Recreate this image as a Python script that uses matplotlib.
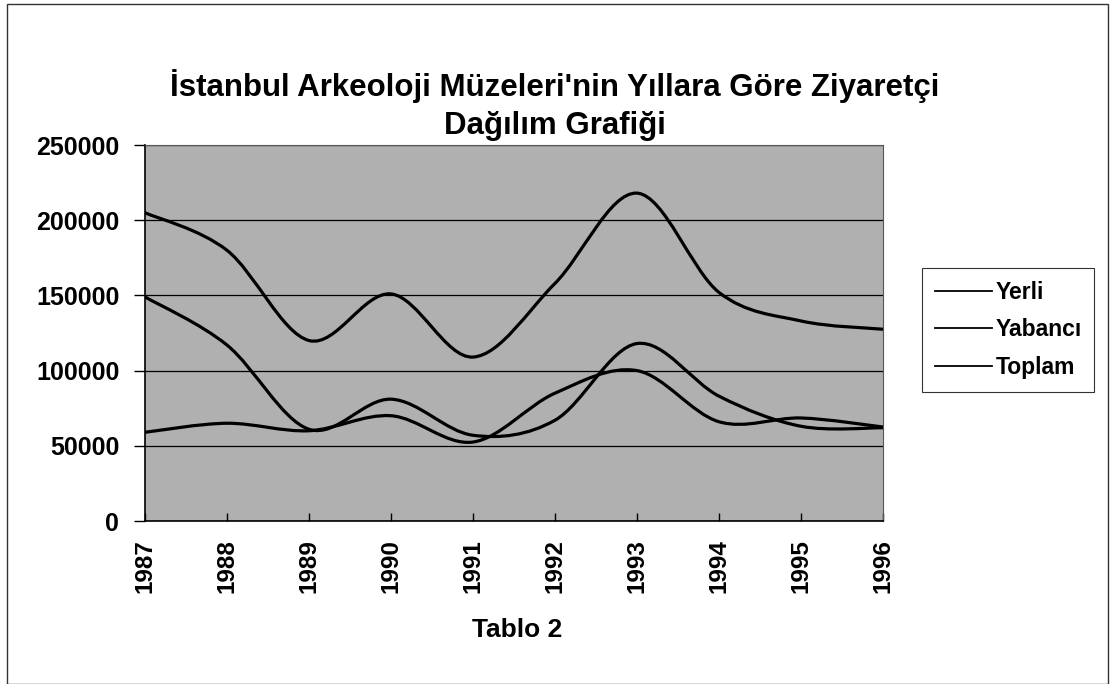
import numpy as np
import matplotlib
matplotlib.use('Agg')
import matplotlib.pyplot as plt
from matplotlib.path import Path
from matplotlib.patches import PathPatch, Rectangle
from matplotlib.lines import Line2D

plt.rcParams['font.family'] = ['Liberation Sans', 'DejaVu Sans']
plt.rcParams['font.weight'] = 'bold'

#  Data
years = [1987, 1988, 1989, 1990, 1991, 1992, 1993, 1994, 1995, 1996]
yerli = [59000, 65000, 60000, 70000, 52500, 85000, 100000, 66000, 68500, 62500]
yabanci = [149000, 117000, 61000, 81000, 57000, 67000, 118000, 83000, 63000,
           62000]
toplam = [205000, 180000, 120000, 151000, 109000, 158000, 218000, 152000,
          133000, 127500]
series_names = ['Yerli', 'Yabancı', 'Toplam']

title_1 = "İstanbul Arkeoloji Müzeleri'nin Yıllara Göre Ziyaretçi"
title_2 = "Dağılım Grafiği"


def smooth_path(xs, ys):
    #  Bezier path through the points (like Excel's smoothed line)
    p = np.column_stack([xs, ys]).astype(float)
    n = len(p)
    verts = [p[0]]
    codes = [Path.MOVETO]
    for i in range(n - 1):
        p0 = p[i - 1] if i > 0 else p[i]
        p1 = p[i]
        p2 = p[i + 1]
        p3 = p[i + 2] if i + 2 < n else p[i + 1]
        c1 = p1 + (p2 - p0) / 6.0
        c2 = p2 - (p3 - p1) / 6.0
        verts += [c1, c2, p2]
        codes += [Path.CURVE4] * 3
    return Path(verts, codes)


fig = plt.figure(figsize=(11.1, 6.84), dpi=100)
ax = fig.add_axes([0.1306, 0.2383, 0.6649, 0.5497])
ax.set_facecolor('#b0b0b0')

for vals in (yerli, yabanci, toplam):
    ax.add_patch(PathPatch(smooth_path(years, vals), fill=False,
                           edgecolor='black', lw=2.3, zorder=3,
                           capstyle='round'))

ax.set_xlim(years[0], years[-1])
ax.set_ylim(0, 250000)
ax.set_yticks(np.arange(0, 250001, 50000))
ax.set_xticks(years)
ax.set_xticklabels([str(y) for y in years], rotation=90, fontsize=17.5,
                   fontweight='bold')
ax.set_yticklabels([str(v) for v in range(0, 250001, 50000)], fontsize=18,
                   fontweight='bold')
ax.tick_params(axis='x', direction='in', length=6, width=1, pad=13)
ax.tick_params(axis='y', direction='out', length=8, width=1, pad=10.5)
ax.yaxis.grid(True, color='black', lw=0.9)
ax.set_axisbelow(True)
for side in ['top', 'right']:
    ax.spines[side].set_color('#555555')
    ax.spines[side].set_linewidth(0.8)
for side in ['left', 'bottom']:
    ax.spines[side].set_linewidth(1.2)

fig.text(0.5, 1 - 96 / 684, title_1, ha='center', va='baseline',
         fontsize=22.5, fontweight='bold')
fig.text(0.5, 1 - 134 / 684, title_2, ha='center', va='baseline',
         fontsize=22.5, fontweight='bold')
fig.text(0.466, 1 - 637 / 684, 'Tablo 2', ha='center', va='baseline',
         fontsize=19, fontweight='bold')

handles = [Line2D([], [], color='black', lw=1.3) for _ in series_names]
leg = fig.legend(handles, series_names, loc='upper left',
                 bbox_to_anchor=(922 / 1110, 1 - 268 / 684), frameon=True,
                 fancybox=False, edgecolor='black', handlelength=2.5,
                 handletextpad=0.15, borderpad=0.55, labelspacing=0.65,
                 borderaxespad=0.0, prop={'weight': 'bold', 'size': 16.5})
leg.get_frame().set_linewidth(0.8)

#  Outer border of the chart object
fig.patches.append(Rectangle((0.006, 0.0), 0.992, 0.994, fill=False,
                             edgecolor='#333333', lw=1.0,
                             transform=fig.transFigure, figure=fig))

fig.savefig('out.png', dpi=100)
